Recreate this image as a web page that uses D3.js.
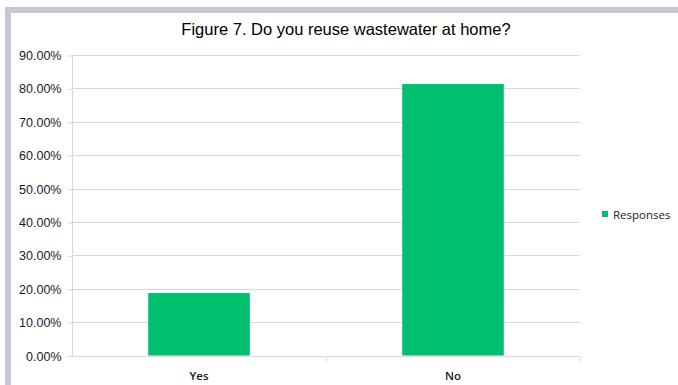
<!DOCTYPE html>
<html>
<head>
<meta charset="utf-8">
<script src="https://cdn.jsdelivr.net/npm/d3@7"></script>
<style>
  html, body { margin: 0; padding: 0; background: #fff; }
  svg { display: block; }
</style>
</head>
<body>
<svg id="chart" width="678" height="385"></svg>
<script>
// Survey answers: share of respondents reusing wastewater
const categories = ["Yes", "No"];
const responses = [0.187, 0.813];
const seriesName = "Responses";
const yTicks = [0, 0.1, 0.2, 0.3, 0.4, 0.5, 0.6, 0.7, 0.8, 0.9];
const title = "Figure 7. Do you reuse wastewater at home?";

const svg = d3.select("#chart");
const W = 678, H = 385;
const plot = { left: 72, right: 580, top: 55, bottom: 355.5 };
const barColor = "#00bf6f";
const gridColor = "#d9d9d9";

// frame around the chart panel
svg.append("rect").attr("x", 5).attr("y", 7).attr("width", W).attr("height", 6).attr("fill", "#c5c8d3");
svg.append("rect").attr("x", 5).attr("y", 7).attr("width", 6).attr("height", H).attr("fill", "#c5c8d3");

const x = d3.scaleBand().domain(categories).range([plot.left, plot.right]).paddingInner(0.6).paddingOuter(0.3);
const y = d3.scaleLinear().domain([0, 0.9]).range([plot.bottom, plot.top]);

// horizontal gridlines
svg.append("g").selectAll("line").data(yTicks).join("line")
  .attr("x1", plot.left).attr("x2", plot.right)
  .attr("y1", d => Math.round(y(d)) + 0.5).attr("y2", d => Math.round(y(d)) + 0.5)
  .attr("stroke", gridColor).attr("stroke-width", 1);

// y axis
const yAxis = d3.axisLeft(y).tickValues(yTicks).tickFormat(d3.format(".2%")).tickSize(5).tickPadding(6);
const gy = svg.append("g").attr("transform", `translate(${plot.left + 0.5},0.5)`).call(yAxis);
gy.select(".domain").attr("stroke", gridColor).attr("d", `M-0,${Math.round(plot.top)}V${Math.round(plot.bottom)}`);
gy.selectAll(".tick line").attr("stroke", gridColor);
gy.selectAll(".tick text").attr("fill", "#1a1a1a").style("font-family", "'Liberation Sans', Arial, sans-serif").style("font-size", "12.5px");

// bars
svg.append("g").selectAll("rect").data(categories).join("rect")
  .attr("x", d => x(d)).attr("width", x.bandwidth())
  .attr("y", (d, i) => y(responses[i]))
  .attr("height", (d, i) => y(0) - y(responses[i]))
  .attr("fill", barColor);

// x axis
const xb = d3.scaleBand().domain(categories).range([plot.left, plot.right]);
const gx = svg.append("g").attr("transform", `translate(0,${Math.round(plot.bottom) + 0.5})`);
gx.append("line").attr("x1", plot.left).attr("x2", plot.right).attr("stroke", gridColor);
gx.selectAll(".sep").data(categories).join("line").attr("class", "sep")
  .attr("x1", d => Math.round(xb(d) + xb.bandwidth()) + 0.5).attr("x2", d => Math.round(xb(d) + xb.bandwidth()) + 0.5)
  .attr("y1", 0).attr("y2", 5).attr("stroke", gridColor);
gx.selectAll("text").data(categories).join("text")
  .attr("x", d => xb(d) + xb.bandwidth() / 2).attr("y", 23)
  .attr("text-anchor", "middle")
  .attr("fill", "#1a1a1a")
  .style("font-family", "'Open Sans', 'Liberation Sans', sans-serif").style("font-size", "11.5px").style("font-weight", "600")
  .text(d => d);

// title
svg.append("text").attr("x", 346).attr("y", 35).attr("text-anchor", "middle")
  .attr("fill", "#000").style("font-family", "'Liberation Sans', Arial, sans-serif").style("font-size", "16.5px")
  .text(title);

// legend
const lg = svg.append("g").attr("transform", "translate(602,211)");
lg.append("rect").attr("width", 6).attr("height", 6).attr("fill", barColor);
lg.append("text").attr("x", 11).attr("y", 7.5).attr("fill", "#1a1a1a")
  .style("font-family", "'Open Sans', 'Liberation Sans', sans-serif").style("font-size", "11.5px")
  .text(seriesName);
</script>
</body>
</html>
